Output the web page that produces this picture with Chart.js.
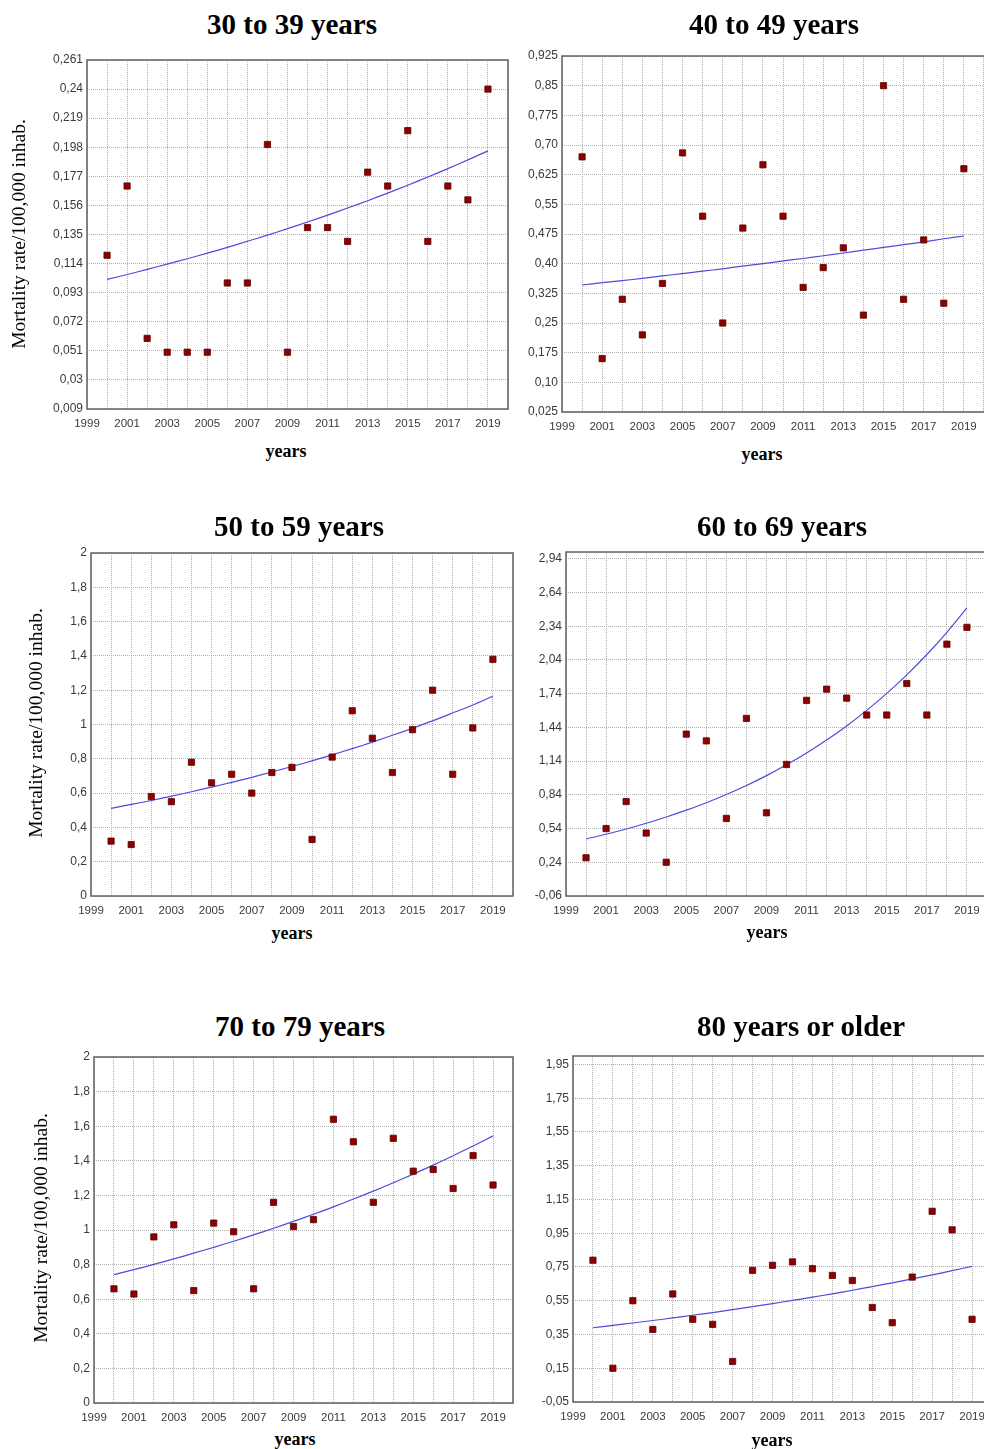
<!DOCTYPE html>
<html>
<head>
<meta charset="utf-8">
<script src="https://cdn.jsdelivr.net/npm/chart.js@4.4.1/dist/chart.umd.min.js"></script>
<style>
    html, body { margin: 0; padding: 0; background: #fff; overflow: hidden; }
    #page { position: relative; width: 984px; height: 1449px; overflow: hidden; }
    canvas { position: absolute; }
    .title { position: absolute; width: 320px; text-align: center; font: bold 29px "Liberation Serif", "Times New Roman", serif; line-height: 34px; color: #000; white-space: nowrap; }
    .xlab { position: absolute; width: 120px; text-align: center; font: bold 18px "Liberation Serif", "Times New Roman", serif; line-height: 20px; color: #000; }
    .ylab { position: absolute; width: 320px; height: 24px; text-align: center; font: 19.5px "Liberation Serif", "Times New Roman", serif; line-height: 24px; color: #000; transform: rotate(-90deg); white-space: nowrap; }
</style>
</head>
<body>
<div id="page"></div>
<script>
// years and x ticks
const years = [2000, 2001, 2002, 2003, 2004, 2005, 2006, 2007, 2008, 2009,
               2010, 2011, 2012, 2013, 2014, 2015, 2016, 2017, 2018, 2019];
const yearTicks = [1999, 2000, 2001, 2002, 2003, 2004, 2005, 2006, 2007, 2008, 2009,
                   2010, 2011, 2012, 2013, 2014, 2015, 2016, 2017, 2018, 2019, 2020];

// 30 to 39 years
const rate30 = [0.12, 0.17, 0.06, 0.05, 0.05, 0.05, 0.10, 0.10, 0.20, 0.05,
                0.14, 0.14, 0.13, 0.18, 0.17, 0.21, 0.13, 0.17, 0.16, 0.24];
const trend30 = [0.1026, 0.1061, 0.1098, 0.1136, 0.1175, 0.1215, 0.1257, 0.1301, 0.1345, 0.1392,
                 0.1440, 0.1490, 0.1541, 0.1594, 0.1649, 0.1706, 0.1765, 0.1826, 0.1889, 0.1954];
const ticks30 = ['0,009', '0,03', '0,051', '0,072', '0,093', '0,114', '0,135',
                 '0,156', '0,177', '0,198', '0,219', '0,24', '0,261'];

// 40 to 49 years
const rate40 = [0.67, 0.16, 0.31, 0.22, 0.35, 0.68, 0.52, 0.25, 0.49, 0.65,
                0.52, 0.34, 0.39, 0.44, 0.27, 0.85, 0.31, 0.46, 0.30, 0.64];
const trend40 = [0.346, 0.352, 0.357, 0.363, 0.369, 0.375, 0.381, 0.387, 0.394, 0.400,
                 0.407, 0.413, 0.420, 0.427, 0.434, 0.441, 0.448, 0.455, 0.463, 0.470];
const ticks40 = ['0,025', '0,10', '0,175', '0,25', '0,325', '0,40', '0,475',
                 '0,55', '0,625', '0,70', '0,775', '0,85', '0,925'];

// 50 to 59 years
const rate50 = [0.32, 0.30, 0.58, 0.55, 0.78, 0.66, 0.71, 0.60, 0.72, 0.75,
                0.33, 0.81, 1.08, 0.92, 0.72, 0.97, 1.20, 0.71, 0.98, 1.38];
const trend50 = [0.511, 0.534, 0.557, 0.582, 0.608, 0.635, 0.663, 0.692, 0.723, 0.755,
                 0.788, 0.823, 0.859, 0.897, 0.937, 0.978, 1.021, 1.067, 1.114, 1.165];
const ticks50 = ['0', '0,2', '0,4', '0,6', '0,8', '1', '1,2', '1,4', '1,6', '1,8', '2'];

// 60 to 69 years
const rate60 = [0.28, 0.54, 0.78, 0.50, 0.24, 1.38, 1.32, 0.63, 1.52, 0.68,
                1.11, 1.68, 1.78, 1.70, 1.55, 1.55, 1.83, 1.55, 2.18, 2.33];
const trend60 = [0.447, 0.489, 0.536, 0.587, 0.643, 0.704, 0.770, 0.843, 0.923, 1.011,
                 1.107, 1.212, 1.327, 1.453, 1.591, 1.742, 1.907, 2.088, 2.286, 2.503];
const ticks60 = ['-0,06', '0,24', '0,54', '0,84', '1,14', '1,44', '1,74', '2,04', '2,34', '2,64', '2,94'];

// 70 to 79 years
const rate70 = [0.66, 0.63, 0.96, 1.03, 0.65, 1.04, 0.99, 0.66, 1.16, 1.02,
                1.06, 1.64, 1.51, 1.16, 1.53, 1.34, 1.35, 1.24, 1.43, 1.26];
const trend70 = [0.742, 0.771, 0.801, 0.833, 0.866, 0.900, 0.935, 0.972, 1.010, 1.050,
                 1.091, 1.134, 1.179, 1.225, 1.273, 1.323, 1.375, 1.429, 1.486, 1.544];
const ticks70 = ['0', '0,2', '0,4', '0,6', '0,8', '1', '1,2', '1,4', '1,6', '1,8', '2'];

// 80 years or older
const rate80 = [0.79, 0.15, 0.55, 0.38, 0.59, 0.44, 0.41, 0.19, 0.73, 0.76,
                0.78, 0.74, 0.70, 0.67, 0.51, 0.42, 0.69, 1.08, 0.97, 0.44];
const trend80 = [0.390, 0.404, 0.418, 0.433, 0.448, 0.464, 0.480, 0.497, 0.515, 0.533,
                 0.552, 0.571, 0.591, 0.612, 0.634, 0.656, 0.679, 0.703, 0.728, 0.754];
const ticks80 = ['-0,05', '0,15', '0,35', '0,55', '0,75', '0,95', '1,15', '1,35', '1,55', '1,75', '1,95'];

const yTitle = 'Mortality rate/100,000 inhab.';

// layout of each panel: plot box (L,T,R,B) in page px, canvas left, text spots
const panels = [
    { title: '30 to 39 years', rates: rate30, trend: trend30, ticks: ticks30, ymin: 0.009, ymax: 0.261, xmax: 2020,
      L: 87, T: 60, R: 508, B: 409, cl: 0, titleX: 292, titleBase: 34, yearsX: 286, yearsBase: 457, yTitle: [19, 234] },
    { title: '40 to 49 years', rates: rate40, trend: trend40, ticks: ticks40, ymin: 0.025, ymax: 0.925, xmax: 2020.3,
      L: 562, T: 56, R: 990, B: 412, cl: 512, titleX: 774, titleBase: 34, yearsX: 762, yearsBase: 460 },
    { title: '50 to 59 years', rates: rate50, trend: trend50, ticks: ticks50, ymin: 0, ymax: 2, xmax: 2020,
      L: 91, T: 553, R: 513, B: 896, cl: 0, titleX: 299, titleBase: 536, yearsX: 292, yearsBase: 939, yTitle: [36, 723] },
    { title: '60 to 69 years', rates: rate60, trend: trend60, ticks: ticks60, ymin: -0.06, ymax: 3.0, xmax: 2020.3,
      L: 566, T: 552, R: 993, B: 896, cl: 517, titleX: 782, titleBase: 536, yearsX: 767, yearsBase: 938 },
    { title: '70 to 79 years', rates: rate70, trend: trend70, ticks: ticks70, ymin: 0, ymax: 2, xmax: 2020,
      L: 94, T: 1057, R: 513, B: 1403, cl: 0, titleX: 300, titleBase: 1036, yearsX: 295, yearsBase: 1445, yTitle: [41, 1228] },
    { title: '80 years or older', rates: rate80, trend: trend80, ticks: ticks80, ymin: -0.05, ymax: 2.0, xmax: 2020.3,
      L: 573, T: 1056, R: 998, B: 1402, cl: 517, titleX: 801, titleBase: 1036, yearsX: 772, yearsBase: 1446 }
];

Chart.defaults.font.family = '"Liberation Sans", Arial, sans-serif';
Chart.defaults.font.size = 11.5;
Chart.defaults.color = '#3a3a3a';

// frame round the plot area
const framePlugin = {
    id: 'frame',
    afterDraw(chart) {
        const a = chart.chartArea, ctx = chart.ctx;
        ctx.save();
        ctx.strokeStyle = '#606060';
        ctx.lineWidth = 1.5;
        ctx.strokeRect(a.left, a.top, a.right - a.left, a.bottom - a.top);
        ctx.restore();
    }
};

const page = document.getElementById('page');

function addText(cls, text, left, top) {
    const d = document.createElement('div');
    d.className = cls;
    d.textContent = text;
    d.style.left = left + 'px';
    d.style.top = top + 'px';
    page.appendChild(d);
}

const toNum = s => parseFloat(s.replace(',', '.'));

panels.forEach(p => {
    const padTop = 14, padRight = 10, xH = 25;
    const canvas = document.createElement('canvas');
    const ctop = p.T - padTop;
    const w = p.R + padRight - p.cl, h = p.B + xH - ctop;
    canvas.width = w;
    canvas.height = h;
    canvas.style.left = p.cl + 'px';
    canvas.style.top = ctop + 'px';
    canvas.style.width = w + 'px';
    canvas.style.height = h + 'px';
    page.appendChild(canvas);

    const gridOpts = { color: '#b0b0b0', lineWidth: 1, drawTicks: false };
    const tickVals = p.ticks.map(toNum);

    new Chart(canvas.getContext('2d'), {
        type: 'scatter',
        data: {
            datasets: [{
                data: years.map((x, i) => ({ x: x, y: p.rates[i] })),
                pointStyle: 'rect',
                pointRadius: 4.4,
                backgroundColor: '#8b0000',
                borderColor: '#5a0000',
                borderWidth: 0.8
            }, {
                data: years.map((x, i) => ({ x: x, y: p.trend[i] })),
                showLine: true,
                pointRadius: 0,
                borderColor: '#4b4bdc',
                borderWidth: 1.2,
                tension: 0.3
            }]
        },
        options: {
            responsive: false,
            animation: false,
            devicePixelRatio: 1,
            layout: { padding: { top: padTop, right: padRight, left: 0, bottom: 0 } },
            plugins: { legend: { display: false }, tooltip: { enabled: false } },
            scales: {
                x: {
                    type: 'linear',
                    min: 1999,
                    max: p.xmax,
                    grid: gridOpts,
                    border: { display: false, dash: [1, 1] },
                    afterBuildTicks: s => { s.ticks = yearTicks.map(v => ({ value: v })); },
                    afterFit: s => { s.height = xH; },
                    ticks: {
                        autoSkip: false,
                        maxRotation: 0,
                        padding: 8,
                        callback: v => (v % 2 === 1 && v <= 2019) ? String(v) : ''
                    }
                },
                y: {
                    min: p.ymin,
                    max: p.ymax,
                    grid: gridOpts,
                    border: { display: false, dash: [1, 1] },
                    afterBuildTicks: s => { s.ticks = tickVals.map(v => ({ value: v })); },
                    afterFit: s => { s.width = p.L - p.cl; },
                    ticks: {
                        padding: 4,
                        font: { size: 12 },
                        callback: (v, i) => p.ticks[i]
                    }
                }
            }
        },
        plugins: [framePlugin]
    });

    addText('title', p.title, p.titleX - 160, p.titleBase - 27);
    addText('xlab', 'years', p.yearsX - 60, p.yearsBase - 16);
    if (p.yTitle) addText('ylab', yTitle, p.yTitle[0] - 160, p.yTitle[1] - 12);
});
</script>
</body>
</html>
